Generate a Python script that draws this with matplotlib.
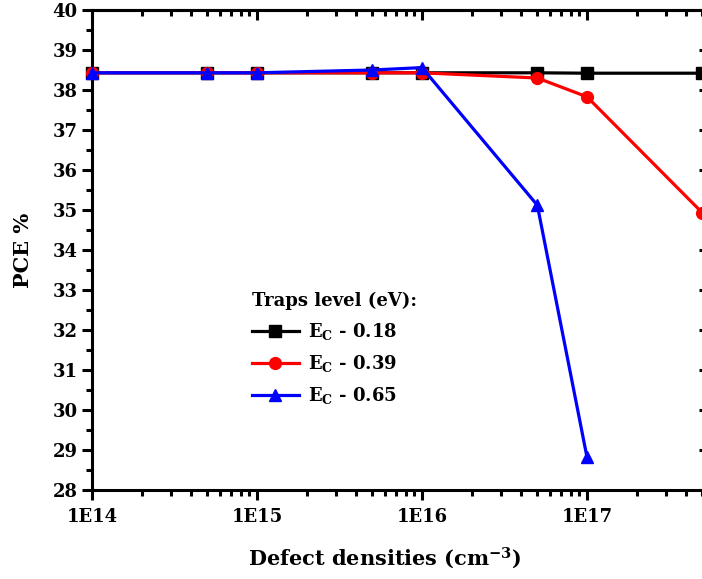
import matplotlib
matplotlib.use("Agg")
import matplotlib.pyplot as plt
from matplotlib.ticker import LogLocator, FixedLocator, MultipleLocator, FuncFormatter, NullLocator

plt.rcParams['font.family'] = ['DejaVu Serif']
plt.rcParams['font.weight'] = 'bold'
plt.rcParams['mathtext.fontset'] = 'custom'
plt.rcParams['mathtext.rm'] = 'DejaVu Serif:bold'
plt.rcParams['mathtext.bf'] = 'DejaVu Serif:bold'
plt.rcParams['mathtext.it'] = 'DejaVu Serif:bold'

densities = [1e14, 5e14, 1e15, 5e15, 1e16, 5e16, 1e17, 5e17]
pce_018 = [38.43, 38.43, 38.43, 38.43, 38.43, 38.43, 38.42, 38.42]
pce_039 = [38.43, 38.43, 38.43, 38.43, 38.43, 38.30, 37.83, 34.93]
dens_065 = [1e14, 5e14, 1e15, 5e15, 1e16, 5e16, 1e17]
pce_065 = [38.43, 38.43, 38.43, 38.50, 38.56, 35.12, 28.82]

series_labels = [r'$\mathregular{E_C}$ - 0.18', r'$\mathregular{E_C}$ - 0.39', r'$\mathregular{E_C}$ - 0.65']
x_ticks = [1e14, 1e15, 1e16, 1e17]
x_tick_labels = ['1E14', '1E15', '1E16', '1E17']

fig = plt.figure(figsize=(7.02, 5.79), dpi=100)
# axes runs slightly past the right edge of the canvas
ax = fig.add_axes([92/702, 89/579, 613/702, 480/579])

ax.plot(densities, pce_018, color='black', lw=2.3, marker='s', ms=8, label=series_labels[0], clip_on=False, zorder=3)
ax.plot(densities, pce_039, color='red', lw=2.3, marker='o', ms=8.5, label=series_labels[1], clip_on=False, zorder=4)
ax.plot(dens_065, pce_065, color='blue', lw=2.3, marker='^', ms=8.5, label=series_labels[2], clip_on=False, zorder=5)

ax.set_xscale('log')
ax.set_xlim(1e14, 5.19e17)
ax.set_ylim(28, 40)
ax.xaxis.set_major_locator(FixedLocator(x_ticks))
ax.xaxis.set_major_formatter(FuncFormatter(lambda v, p: x_tick_labels[x_ticks.index(v)] if v in x_ticks else ''))
ax.xaxis.set_minor_locator(LogLocator(base=10, subs=range(2, 10)))
ax.xaxis.set_minor_formatter(FuncFormatter(lambda v, p: ''))
ax.yaxis.set_major_locator(MultipleLocator(1))
ax.yaxis.set_minor_locator(MultipleLocator(0.5))

for s in ax.spines.values():
    s.set_linewidth(2.2)

ax.tick_params(axis='both', which='major', direction='out', length=7, width=2.2, labelsize=13)
ax.tick_params(axis='both', which='minor', direction='out', length=4, width=2.2)
ax.tick_params(axis='x', which='major', pad=6)

# inward ticks along the top and right spines
sec_x = ax.secondary_xaxis('top')
sec_x.set_xscale('log')
sec_x.xaxis.set_major_locator(FixedLocator(x_ticks))
sec_x.xaxis.set_minor_locator(LogLocator(base=10, subs=range(2, 10)))
sec_x.tick_params(which='major', direction='in', length=7, width=2.2, labeltop=False)
sec_x.tick_params(which='minor', direction='in', length=4, width=2.2)
sec_x.spines['top'].set_linewidth(2.2)
sec_y = ax.secondary_yaxis('right')
sec_y.yaxis.set_major_locator(MultipleLocator(1))
sec_y.yaxis.set_minor_locator(NullLocator())
sec_y.tick_params(which='major', direction='in', length=4, width=2.2, labelright=False)
sec_y.spines['right'].set_linewidth(2.2)

ax.set_xlabel(r'Defect densities (cm$^{\mathregular{-3}}$)', fontsize=15, fontweight='bold', labelpad=17)
ax.xaxis.set_label_coords(0.478, -0.115)
ax.set_ylabel('PCE %', fontsize=15, fontweight='bold', labelpad=14)

leg = ax.legend(title='Traps level (eV):', loc='upper left', bbox_to_anchor=(0.24, 0.44),
                frameon=False, fontsize=13, title_fontsize=13, handlelength=2.6,
                handletextpad=0.5, labelspacing=0.62, alignment='left', borderpad=0.2)
leg.get_title().set_fontweight('bold')

fig.savefig('out.png', dpi=100)
